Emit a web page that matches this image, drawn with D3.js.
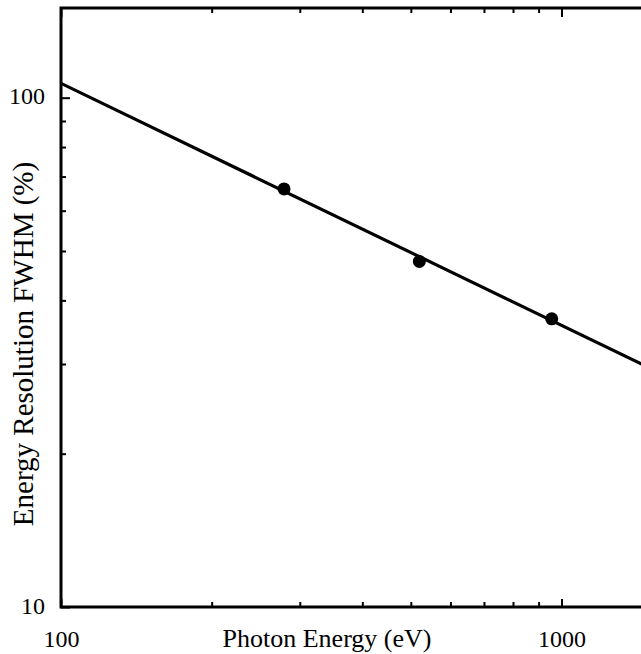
<!DOCTYPE html>
<html>
<head>
<meta charset="utf-8">
<script src="https://cdn.jsdelivr.net/npm/d3@7"></script>
<style>
  html, body { margin: 0; padding: 0; background: #fff; }
  svg { display: block; }
  text { font-family: "Liberation Serif", "Times New Roman", serif; fill: #000; }
</style>
</head>
<body>
<svg id="chart" width="641" height="654"></svg>
<script>
// ---- data ----
const pointEnergy = [279, 520, 956];          // Photon energy (eV)
const pointFWHM   = [66.2, 47.7, 36.8];       // Energy resolution FWHM (%)
const fitEnergy   = [100, 2000];              // fit line endpoints (eV)
const fitFWHM     = [106.7, 25.7];            // fit line values (%)
const xMinorTicks = [200, 300, 400, 500, 600, 700, 800, 900];
const xMajorTicks = [100, 1000];
const yMinorTicks = [20, 30, 40, 50, 60, 70, 80, 90];
const yMajorTicks = [10, 100];
const xTitle = "Photon Energy (eV)";
const yTitle = "Energy Resolution FWHM (%)";

(function () {
// ---- layout ----
const W = 641, H = 654;
const mLeft = 61, mBottom = 607, mTop = 8;
const decadeX = 500.5;
const xMax = 1500;
const mRight = mLeft + decadeX * Math.log10(xMax / 100);

const svg = d3.select("#chart");

const x = d3.scaleLog().domain([100, xMax]).range([mLeft, mRight]);
const y = d3.scaleLog().domain([10, 150]).range([mBottom, mTop]);

svg.append("defs").append("clipPath").attr("id", "clip")
  .append("rect").attr("x", mLeft).attr("y", mTop).attr("width", mRight - mLeft).attr("height", mBottom - mTop);

const plot = svg.append("g").attr("clip-path", "url(#clip)");

const lineData = fitEnergy.map((e, i) => [e, fitFWHM[i]]);
plot.append("path")
  .datum(lineData)
  .attr("fill", "none")
  .attr("stroke", "#000")
  .attr("stroke-width", 3.2)
  .attr("d", d3.line().x(d => x(d[0])).y(d => y(d[1])));

plot.selectAll("circle.pt")
  .data(pointEnergy.map((e, i) => [e, pointFWHM[i]]))
  .enter().append("circle")
  .attr("class", "pt")
  .attr("cx", d => x(d[0]))
  .attr("cy", d => y(d[1]))
  .attr("r", 6.5)
  .attr("fill", "#000");

function styleAxis(g) {
  g.select(".domain").remove();
  g.selectAll(".tick line").attr("stroke", "#000").attr("stroke-width", 2);
  g.selectAll(".tick text").attr("font-size", 24).attr("font-family", "Liberation Serif, serif").attr("fill", "#000");
}

svg.append("g").attr("transform", `translate(0,${mBottom})`)
  .call(d3.axisBottom(x).tickValues(xMinorTicks).tickSize(-5).tickFormat(""))
  .call(styleAxis);
svg.append("g").attr("transform", `translate(0,${mBottom})`)
  .call(d3.axisBottom(x).tickValues(xMajorTicks).tickSize(-8).tickPadding(23).tickFormat(d3.format("d")))
  .call(styleAxis);
svg.append("g").attr("transform", `translate(0,${mTop})`)
  .call(d3.axisTop(x).tickValues(xMinorTicks).tickSize(-5).tickFormat(""))
  .call(styleAxis);
svg.append("g").attr("transform", `translate(0,${mTop})`)
  .call(d3.axisTop(x).tickValues(xMajorTicks).tickSize(-9).tickFormat(""))
  .call(styleAxis);
svg.append("g").attr("transform", `translate(${mLeft},0)`)
  .call(d3.axisLeft(y).tickValues(yMinorTicks).tickSize(-5).tickFormat(""))
  .call(styleAxis);
const yMaj = svg.append("g").attr("transform", `translate(${mLeft},0)`)
  .call(d3.axisLeft(y).tickValues(yMajorTicks).tickSize(-9).tickPadding(16).tickFormat(d3.format("d")))
  .call(styleAxis);
yMaj.selectAll(".tick text").attr("dy", "0.25em");

svg.append("path")
  .attr("d", `M${W + 5},${mTop} H${mLeft} V${mBottom} H${W + 5}`)
  .attr("fill", "none")
  .attr("stroke", "#000")
  .attr("stroke-width", 3);

svg.append("text")
  .attr("x", 327).attr("y", 647.3)
  .attr("text-anchor", "middle")
  .attr("font-size", 26)
  .text(xTitle);

svg.append("text")
  .attr("transform", `translate(33,344) rotate(-90)`)
  .attr("text-anchor", "middle")
  .attr("font-size", 29)
  .text(yTitle);
})();
</script>
</body>
</html>
